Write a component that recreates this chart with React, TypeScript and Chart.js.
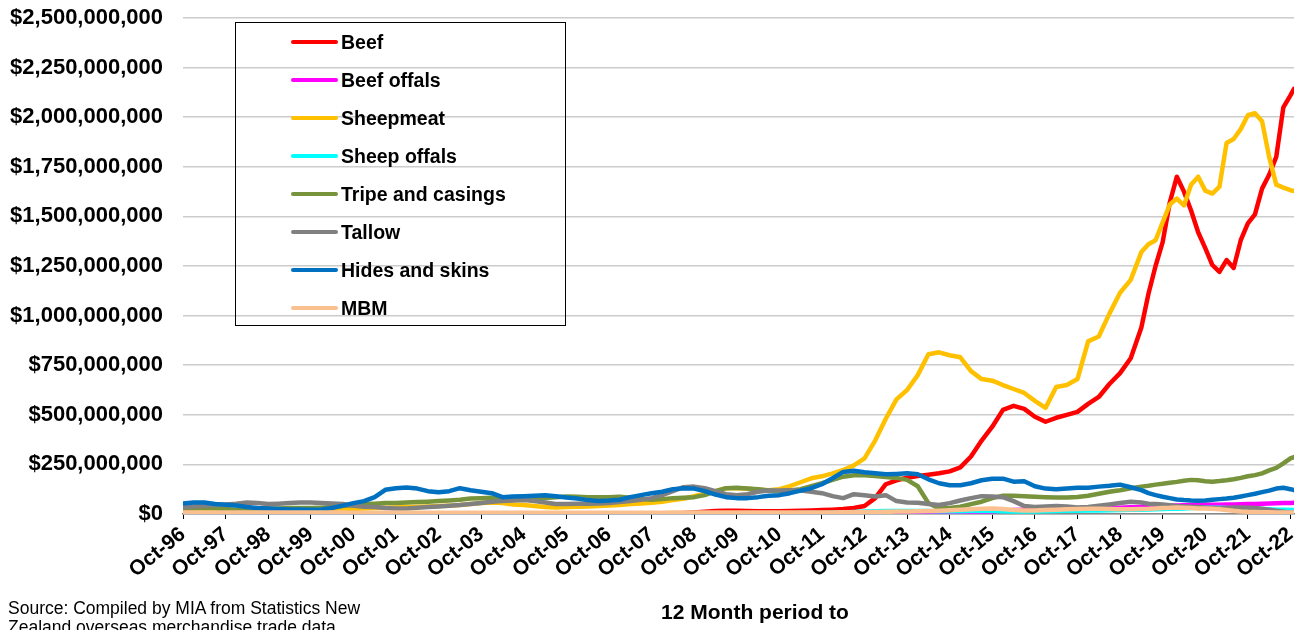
import React, { useEffect, useRef } from 'react';
import { Chart, registerables } from 'chart.js';

Chart.register(...registerables);

const FONT = "'Liberation Sans', Arial, Helvetica, sans-serif";

// Month index: 0 = Oct-96 (12 month period ending), step per month
const months = [
  0, 3, 6, 9, 12, 15, 18, 21, 24, 27,
  30, 33, 36, 39, 42, 45, 48, 51, 54, 57,
  60, 63, 66, 69, 72, 75, 78, 81, 84, 87,
  90, 93, 96, 99, 102, 105, 108, 111, 114, 117,
  120, 123, 126, 129, 132, 135, 138, 141, 144, 147,
  150, 153, 156, 159, 162, 165, 168, 171, 174, 177,
  180, 183, 186, 189, 192, 195, 198, 201, 204, 207,
  210, 213, 216, 219, 222, 225, 228, 231, 234, 237,
  240, 243, 246, 249, 252, 255, 258, 261, 264, 267,
  270, 272, 274, 276, 278, 280, 282, 284, 286, 288,
  290, 292, 294, 296, 298, 300, 302, 304, 306, 308,
  310, 312, 313,
];

const tickMonths = [0, 12, 24, 36, 48, 60, 72, 84, 96, 108, 120, 132, 144, 156, 168, 180, 192, 204, 216, 228, 240, 252, 264, 276, 288, 300, 312];
const tickLabels = [
  'Oct-96', 'Oct-97', 'Oct-98', 'Oct-99', 'Oct-00', 'Oct-01', 'Oct-02', 'Oct-03', 'Oct-04',
  'Oct-05', 'Oct-06', 'Oct-07', 'Oct-08', 'Oct-09', 'Oct-10', 'Oct-11', 'Oct-12', 'Oct-13',
  'Oct-14', 'Oct-15', 'Oct-16', 'Oct-17', 'Oct-18', 'Oct-19', 'Oct-20', 'Oct-21', 'Oct-22',
];

// Values in NZ$ millions
const beef = [
  3, 3, 3, 3, 3, 3, 3, 3, 3, 3,
  3, 3, 3, 3, 3, 3, 3, 3, 3, 3,
  3, 3, 3, 3, 3, 3, 3, 3, 3, 3,
  3, 3, 3, 3, 3, 3, 3, 3, 3, 3,
  3, 3, 3, 3, 3, 3, 4, 5, 8, 12,
  15, 16, 16, 15, 14, 14, 14, 15, 16, 18,
  20, 22, 25, 30, 40, 80, 150, 170, 183, 192,
  198, 205, 215, 235, 290, 370, 440, 525, 545, 530,
  490, 465, 485, 500, 515, 555, 590, 655, 710, 785,
  940, 1110, 1250, 1370, 1570, 1700, 1625, 1530, 1420, 1340,
  1255, 1220, 1280, 1240, 1380, 1465, 1510, 1640, 1710, 1800,
  2050, 2110, 2143,
];

const beefOffals = [
  2, 2, 2, 2, 2, 2, 2, 2, 2, 2,
  2, 2, 2, 2, 2, 2, 2, 2, 2, 2,
  2, 2, 2, 2, 2, 2, 2, 2, 2, 2,
  2, 2, 2, 2, 2, 2, 2, 2, 2, 2,
  2, 2, 2, 2, 2, 2, 2, 2, 2, 2,
  2, 2, 2, 2, 2, 2, 2, 2, 2, 2,
  2, 2, 2, 2, 2, 2, 2, 2, 2, 2,
  3, 3, 4, 5, 6, 8, 12, 16, 20, 22,
  23, 24, 25, 25, 26, 27, 28, 30, 32, 34,
  35, 36, 38, 40, 42, 43, 44, 45, 46, 46,
  47, 47, 48, 48, 49, 50, 51, 52, 53, 54,
  55, 56, 57,
];

const sheepmeat = [
  20, 20, 18, 18, 18, 17, 17, 18, 18, 18,
  18, 19, 20, 20, 20, 22, 25, 28, 30, 32,
  33, 35, 37, 38, 40, 42, 45, 50, 55, 58,
  55, 48, 45, 40, 35, 33, 35, 37, 38, 40,
  43, 45, 50, 53, 57, 62, 70, 77, 90, 102,
  115, 130, 130, 127, 123, 120, 125, 140, 160, 180,
  190, 205, 222, 245, 280, 370, 480, 578, 625, 700,
  805, 815, 800, 790, 720, 680, 672, 650, 630, 610,
  570, 535, 640, 650, 680, 870, 895, 1010, 1115, 1180,
  1320, 1360, 1380, 1470, 1560, 1590, 1555, 1660, 1700, 1630,
  1615, 1650, 1870, 1890, 1940, 2010, 2020, 1980, 1800, 1660,
  1645, 1632, 1628,
];

const sheepOffals = [
  4, 4, 4, 4, 4, 4, 4, 4, 4, 4,
  4, 4, 4, 4, 4, 4, 4, 4, 4, 4,
  4, 4, 4, 4, 4, 4, 4, 4, 4, 4,
  4, 4, 4, 4, 4, 4, 4, 4, 4, 4,
  4, 4, 4, 4, 4, 4, 4, 4, 4, 4,
  4, 4, 4, 4, 4, 4, 4, 4, 5, 5,
  5, 6, 8, 10, 12, 14, 15, 15, 15, 15,
  15, 14, 14, 14, 15, 15, 15, 14, 13, 13,
  13, 14, 15, 16, 17, 18, 18, 19, 20, 21,
  22, 23, 24, 25, 26, 27, 28, 30, 31, 32,
  32, 31, 30, 29, 28, 27, 26, 25, 24, 22,
  21, 20, 20,
];

const tripe = [
  28, 28, 30, 28, 25, 22, 22, 25, 28, 28,
  30, 30, 30, 32, 35, 40, 45, 50, 52, 55,
  55, 58, 60, 62, 65, 68, 72, 78, 80, 82,
  83, 82, 80, 78, 80, 85, 88, 87, 85, 85,
  85, 87, 82, 75, 72, 75, 80, 82, 85, 95,
  115, 130, 132, 128, 125, 118, 115, 118, 125, 140,
  155, 172, 188, 195, 195, 192, 187, 182, 172, 140,
  55, 28, 30, 37, 50, 62, 80, 92, 92, 90,
  87, 85, 83, 83, 86, 92, 102, 112, 120, 130,
  138, 142, 148, 152, 157, 162, 168, 172, 170, 165,
  163, 166, 170, 175, 182, 190, 196, 205, 220, 232,
  255, 280, 287,
];

const tallow = [
  33, 38, 40, 45, 48, 52, 58, 55, 50, 52,
  55, 58, 58, 55, 53, 50, 42, 37, 35, 30,
  28, 28, 32, 35, 38, 42, 45, 50, 55, 62,
  65, 68, 70, 65, 58, 50, 50, 52, 52, 53,
  55, 60, 65, 72, 80, 95, 115, 135, 138, 130,
  115, 100, 95, 100, 112, 118, 118, 120, 118, 112,
  105, 90, 80, 100, 95, 88, 95, 65, 58, 57,
  50, 45, 55, 68, 80, 90, 88, 85, 65, 40,
  35, 38, 40, 38, 33, 35, 42, 48, 55, 62,
  58, 52, 50, 48, 44, 40, 38, 36, 35, 32,
  30, 28, 30, 33, 33, 32, 30, 26, 22, 16,
  12, 8, 7,
];

const hides = [
  53, 58, 58, 50, 47, 43, 35, 30, 28, 25,
  23, 23, 22, 23, 30, 42, 55, 65, 85, 122,
  130, 133, 128, 115, 110, 115, 130, 120, 112, 105,
  85, 88, 90, 92, 95, 90, 83, 78, 70, 66,
  68, 72, 85, 95, 105, 112, 125, 130, 128, 115,
  98, 85, 80, 80, 85, 92, 95, 105, 118, 130,
  150, 180, 212, 218, 210, 205, 200, 202, 205, 200,
  175, 155, 145, 145, 155, 170, 178, 178, 163, 165,
  140, 128, 125, 128, 132, 132, 138, 142, 148, 135,
  120, 105, 95, 87, 80, 73, 70, 68, 67, 68,
  72, 75, 78, 82, 88, 95, 102, 110, 118, 128,
  132, 125, 120,
];

const mbm = [
  8, 8, 8, 8, 8, 7, 7, 7, 7, 7,
  7, 7, 7, 7, 7, 7, 6, 6, 6, 6,
  6, 6, 6, 6, 6, 6, 6, 6, 6, 6,
  6, 6, 6, 6, 6, 6, 6, 6, 6, 6,
  6, 6, 6, 6, 6, 6, 7, 7, 7, 7,
  7, 7, 7, 7, 7, 7, 7, 8, 8, 8,
  8, 8, 9, 9, 10, 10, 11, 12, 13, 14,
  15, 17, 19, 21, 24, 27, 28, 25, 20, 18,
  18, 20, 22, 24, 25, 27, 26, 25, 24, 24,
  25, 26, 28, 30, 31, 33, 32, 30, 28, 28,
  26, 24, 20, 16, 13, 11, 10, 9, 9, 8,
  8, 7, 7,
];

const seriesNames = ['Beef', 'Beef offals', 'Sheepmeat', 'Sheep offals', 'Tripe and casings', 'Tallow', 'Hides and skins', 'MBM'];
const seriesValues = [beef, beefOffals, sheepmeat, sheepOffals, tripe, tallow, hides, mbm];
const seriesColors = ['#ff0000', '#ff00ff', '#ffc000', '#00ffff', '#77933c', '#808080', '#0070c0', '#fac090'];

const fmtDollar = (v: number) => '$' + Math.round(v).toString().replace(/\B(?=(\d{3})+(?!\d))/g, ',');

export default function App() {
  const canvasRef = useRef<HTMLCanvasElement | null>(null);

  useEffect(() => {
    if (!canvasRef.current) return;
    const n = seriesNames.length;
    const chart = new Chart(canvasRef.current, {
      type: 'line',
      data: {
        datasets: seriesNames.map((name, i) => ({
          label: name,
          data: months.map((m, j) => ({ x: m, y: seriesValues[i][j] * 1e6 })),
          borderColor: seriesColors[i],
          backgroundColor: seriesColors[i],
          borderWidth: 4.5,
          pointRadius: 0,
          tension: 0,
          fill: false,
          order: n - i,
          borderJoinStyle: 'round' as const,
          borderCapStyle: 'round' as const,
        })),
      },
      options: {
        animation: false,
        responsive: false,
        devicePixelRatio: 1,
        layout: { padding: { top: 18, right: 17, left: 0, bottom: 0 } },
        plugins: { legend: { display: false }, tooltip: { enabled: false } },
        scales: {
          x: {
            type: 'linear',
            min: 0,
            max: 313,
            afterBuildTicks: (scale: any) => {
              scale.ticks = tickMonths.map((v) => ({ value: v }));
            },
            afterFit: (scale: any) => {
              scale.height = 116;
              scale.paddingLeft = 0;
              scale.paddingRight = 0;
            },
            ticks: {
              autoSkip: false,
              maxRotation: 39,
              minRotation: 39,
              color: '#000',
              padding: 3,
              font: { family: FONT, size: 21, weight: 'bold' },
              callback: (v: any) => {
                const k = tickMonths.indexOf(Number(v));
                return k >= 0 ? tickLabels[k] : '';
              },
            },
            grid: { drawOnChartArea: false, drawTicks: true, tickLength: 5, color: '#000', lineWidth: 1 },
            border: { display: true, color: '#888', width: 1.5 },
          },
          y: {
            min: 0,
            max: 2.5e9,
            afterFit: (scale: any) => {
              scale.width = 183;
              scale.paddingTop = 0;
              scale.paddingBottom = 0;
            },
            ticks: {
              stepSize: 2.5e8,
              color: '#000',
              padding: 20,
              font: { family: FONT, size: 22, weight: 'bold' },
              callback: (v: any) => fmtDollar(Number(v)),
            },
            grid: { color: '#cccccc', lineWidth: 1.5, drawTicks: false },
            border: { display: false },
          },
        },
      },
    });
    return () => chart.destroy();
  }, []);

  return (
    <div style={{ position: 'fixed', left: 0, top: 0, width: 1311, height: 630, background: '#fff', overflow: 'hidden', fontFamily: FONT }}>
      <canvas ref={canvasRef} width={1311} height={630} style={{ position: 'absolute', left: 0, top: 0, width: 1311, height: 630 }} />
      <div style={{ position: 'absolute', left: 235, top: 22, width: 331, height: 304, border: '1px solid #000', boxSizing: 'border-box' }}>
        {seriesNames.map((name, i) => (
          <div key={name} style={{ position: 'absolute', left: 0, top: 19 + 38 * i - 12, height: 24, width: 320 }}>
            <div style={{ position: 'absolute', left: 55, top: 10, width: 47, height: 4, borderRadius: 2, background: seriesColors[i] }} />
            <div style={{ position: 'absolute', left: 105, top: 0, lineHeight: '24px', fontSize: 19.5, fontWeight: 'bold', color: '#000', whiteSpace: 'nowrap' }}>{name}</div>
          </div>
        ))}
      </div>
      <div style={{ position: 'absolute', left: 655, top: 600, width: 200, textAlign: 'center', fontSize: 21, fontWeight: 'bold', color: '#000', whiteSpace: 'nowrap', lineHeight: '24px' }}>12 Month period to</div>
      <div style={{ position: 'absolute', left: 8, top: 599, fontSize: 17.5, color: '#000', lineHeight: '19px', whiteSpace: 'nowrap' }}>
        Source: Compiled by MIA from Statistics New<br />Zealand overseas merchandise trade data
      </div>
    </div>
  );
}
